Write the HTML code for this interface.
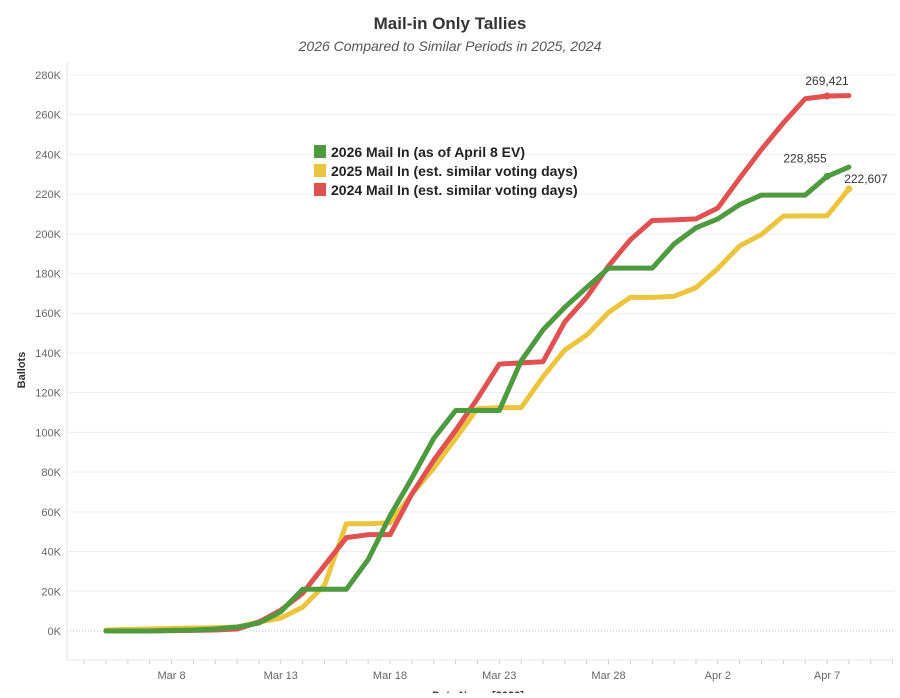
<!DOCTYPE html>
<html><head><meta charset="utf-8"><style>
body{margin:0;background:#fff;font-family:"Liberation Sans",sans-serif;}
svg text{font-family:"Liberation Sans",sans-serif;}
</style></head><body>
<svg id="chart" width="900" height="693">
<text x="450" y="29" text-anchor="middle" font-size="17" font-weight="bold" fill="#333">Mail-in Only Tallies</text>
<text x="450" y="51" text-anchor="middle" font-size="14" font-style="italic" fill="#555">2026 Compared to Similar Periods in 2025, 2024</text>
<text transform="translate(25,370) rotate(-90)" text-anchor="middle" font-size="11" font-weight="bold" fill="#333">Ballots</text>
<text x="478" y="699" text-anchor="middle" font-size="11" font-weight="bold" fill="#333">Date Name [2026]</text>
<g id="grid"></g><g id="axes"></g><g id="series"></g>
<g font-size="14" font-weight="bold" fill="#222">
<rect x="314" y="145" width="12" height="13" fill="#4e9a3f"/>
<text x="331" y="157">2026 Mail In (as of April 8 EV)</text>
<rect x="314" y="164" width="12" height="13" fill="#ecc53e"/>
<text x="331" y="176">2025 Mail In (est. similar voting days)</text>
<rect x="314" y="183" width="12" height="13" fill="#e05252"/>
<text x="331" y="195">2024 Mail In (est. similar voting days)</text>
</g>
</svg>
<script>
const dayLabels = ["Mar 8","Mar 13","Mar 18","Mar 23","Mar 28","Apr 2","Apr 7"];
const dayLabelIdx = [3,8,13,18,23,28,33];
const yTicks = [0,20,40,60,80,100,120,140,160,180,200,220,240,260,280];
const s2026 = [0,0,0,0.3,0.5,1,2,4,9.7,21,21,21,36,58,77,97,111,111,111,136,151.6,163,173,182.7,182.7,182.7,194.9,203,207.5,214.7,219.5,219.5,219.5,228.9,233.6];
const s2025 = [0.5,0.8,1,1.3,1.5,1.7,2,4.5,6.5,12,23,54,54,54.5,69,82,97,112,112.5,112.5,128,141.5,149,160.4,168,168,168.5,172.9,182.5,193.9,199.7,208.9,209,209,222.6];
const s2024 = [0,0,0,0.2,0.3,0.5,1,4.5,10.5,19,33,47,48.5,48.5,69,86,101,117,134.4,135,135.6,155.7,168,183.8,197,206.7,207,207.5,213,228,242.5,255.8,268,269.4,269.6];
const xScale = i => 106 + 21.85*i;
const yScale = v => 631 - v*1.986;
const NS="http://www.w3.org/2000/svg";
function mk(tag,attrs,parent){const e=document.createElementNS(NS,tag);for(const k in attrs)e.setAttribute(k,attrs[k]);parent.appendChild(e);return e;}
const grid=document.getElementById('grid'), axes=document.getElementById('axes'), ser=document.getElementById('series');
yTicks.forEach(t=>{
  const y=yScale(t);
  const l=mk('line',{x1:67,x2:895,y1:y,y2:y,stroke:t===0?'#bbb':'#efefef','stroke-width':1},grid);
  if(t===0)l.setAttribute('stroke-dasharray','1,2');
  
  
  const tx=mk('text',{x:61,y:y+4,'text-anchor':'end','font-size':11,fill:'#666'},axes);
  tx.textContent=t+'K';
  
  
});
mk('line',{x1:67,x2:67,y1:62,y2:660,stroke:'#e6e6e6'},axes);
mk('line',{x1:67,x2:895,y1:660,y2:660,stroke:'#e6e6e6'},axes);
for(let i=-2;i<37;i++){const x=xScale(i);if(x<68||x>894)continue;mk('line',{x1:x,x2:x,y1:660,y2:664,stroke:'#ccc'},axes);}
dayLabels.forEach((lab,k)=>{
  const tx=mk('text',{x:xScale(dayLabelIdx[k]),y:679,'text-anchor':'middle','font-size':11,fill:'#666'},axes);
  tx.textContent=lab;
  
  
});
function draw(data,color,name){
  const p=mk('polyline',{points:data.map((v,i)=>xScale(i)+','+yScale(v)).join(' '),fill:'none',stroke:color,'stroke-width':5,'stroke-linejoin':'round','stroke-linecap':'round'},ser);
  
  
}
draw(s2025,'#ecc53e','line-2025');
draw(s2024,'#e05252','line-2024');
draw(s2026,'#4e9a3f','line-2026');
function mark(data,idx,color,label,dx,dy,name){
  const c=mk('circle',{cx:xScale(idx),cy:yScale(data[idx]),r:3.5,fill:color},ser);
  
  
  const t=mk('text',{x:xScale(idx)+dx,y:yScale(data[idx])+dy,'text-anchor':'middle','font-size':12,fill:'#333'},ser);
  t.textContent=label;
  
  
}
mark(s2024,33,'#e05252','269,421',0,-11,'mark-2024');
mark(s2026,33,'#4e9a3f','228,855',-22,-14,'mark-2026');
mark(s2025,34,'#ecc53e','222,607',17,-6,'mark-2025');
</script>
</body></html>
